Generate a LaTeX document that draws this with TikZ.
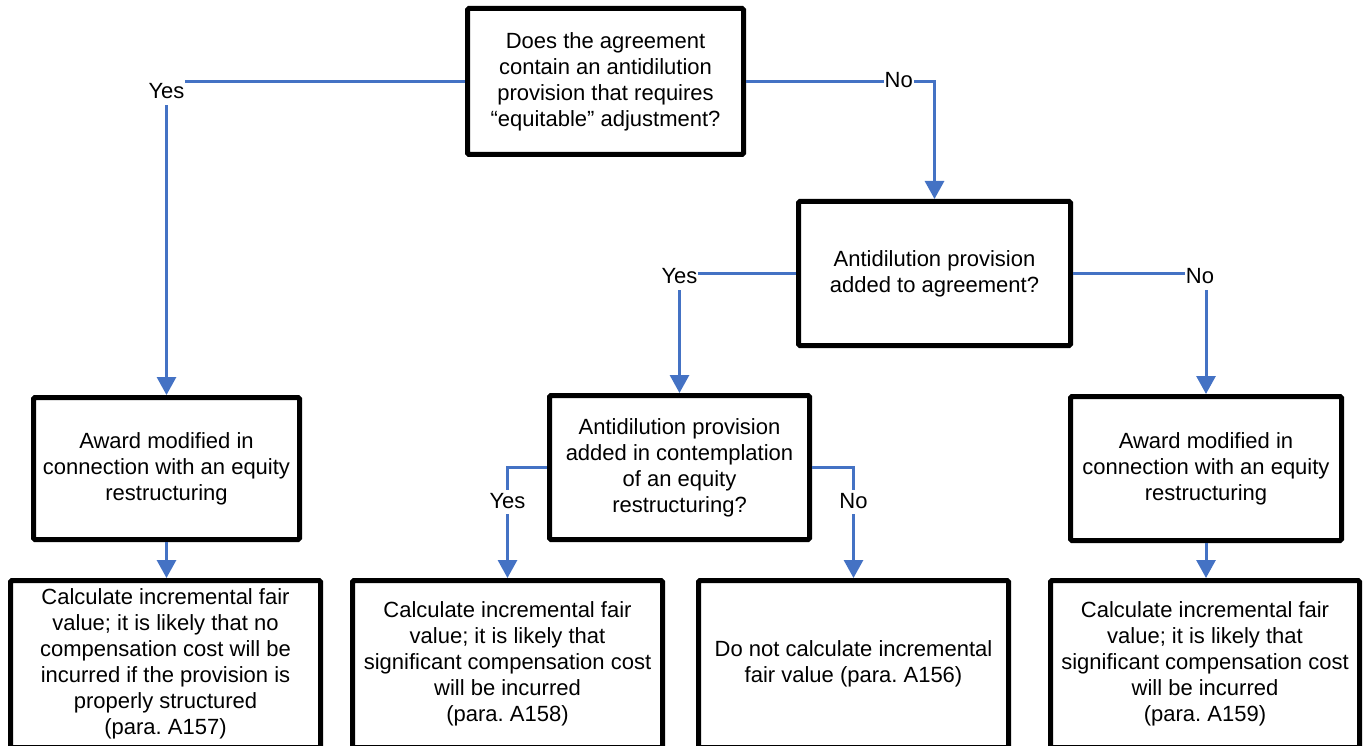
\documentclass[tikz,border=0pt]{standalone}
\usepackage{fontspec}
\setmainfont{Liberation Sans}
\usetikzlibrary{arrows.meta}
\definecolor{flowblue}{RGB}{68,114,196}
\begin{document}
\frenchspacing
\begin{tikzpicture}[x=1pt,y=-1pt,
  box/.style={draw=black, line width=5pt, rounded corners=1.5pt, align=center, inner sep=0pt, font=\fontsize{22}{26}\selectfont\frenchspacing},
  conn/.style={draw=flowblue, line width=3pt, -{Triangle[length=18pt,width=19pt]}},
  lbl/.style={fill=white, text=black, inner xsep=1pt, inner ysep=2pt, text height=16pt, text depth=4pt, font=\fontsize{22}{26}\selectfont}
]
\useasboundingbox (0,0) rectangle (1363,746);

\node[box, minimum width=276pt, minimum height=146pt] (A) at (605.5,81.5)
  {Does the agreement\\contain an antidilution\\provision that requires\\“equitable” adjustment?};
\node[box, minimum width=272pt, minimum height=144pt] (B) at (934.5,273.5)
  {Antidilution provision\\added to agreement?};
\node[box, minimum width=266pt, minimum height=142pt] (C) at (166.5,468.5)
  {Award modified in\\connection with an equity\\restructuring};
\node[box, minimum width=260pt, minimum height=144pt] (D) at (679.5,467.5)
  {Antidilution provision\\added in contemplation\\of an equity\\restructuring?};
\node[box, minimum width=271pt, minimum height=144pt] (E) at (1206,468.5)
  {Award modified in\\connection with an equity\\restructuring};
\node[box, minimum width=310pt, minimum height=167pt] (F) at (165.5,664)
  {Calculate incremental fair\\value; it is likely that no\\compensation cost will be\\incurred if the provision is\\properly structured\\(para. A157)};
\node[box, minimum width=310pt, minimum height=167pt] (G) at (507.5,664)
  {Calculate incremental fair\\value; it is likely that\\significant compensation cost\\will be incurred\\(para. A158)};
\node[box, minimum width=310pt, minimum height=167pt] (H) at (853.5,664)
  {Do not calculate incremental\\fair value (para. A156)};
\node[box, minimum width=309pt, minimum height=167pt] (I) at (1205,664)
  {Calculate incremental fair\\value; it is likely that\\significant compensation cost\\will be incurred\\(para. A159)};

\draw[conn] (A.west) -| node[lbl, anchor=north, yshift=4pt, text height=18pt] {Yes} (C.north);
\draw[conn] (A.east) -| node[lbl, pos=0.405] {No} (B.north);
\draw[conn] (B.west) -| node[lbl, yshift=-4pt] {Yes} (D.north);
\draw[conn] (B.east) -| node[lbl, yshift=-4pt, xshift=-6pt] {No} (E.north);
\draw[conn] (C.south) -- (C.south |- F.north);
\draw[conn] (D.west) -| node[lbl, pos=0.657] {Yes} (G.north);
\draw[conn] (D.east) -| node[lbl, pos=0.657] {No} (H.north);
\draw[conn] (E.south) -- (E.south |- I.north);
\end{tikzpicture}
\end{document}
